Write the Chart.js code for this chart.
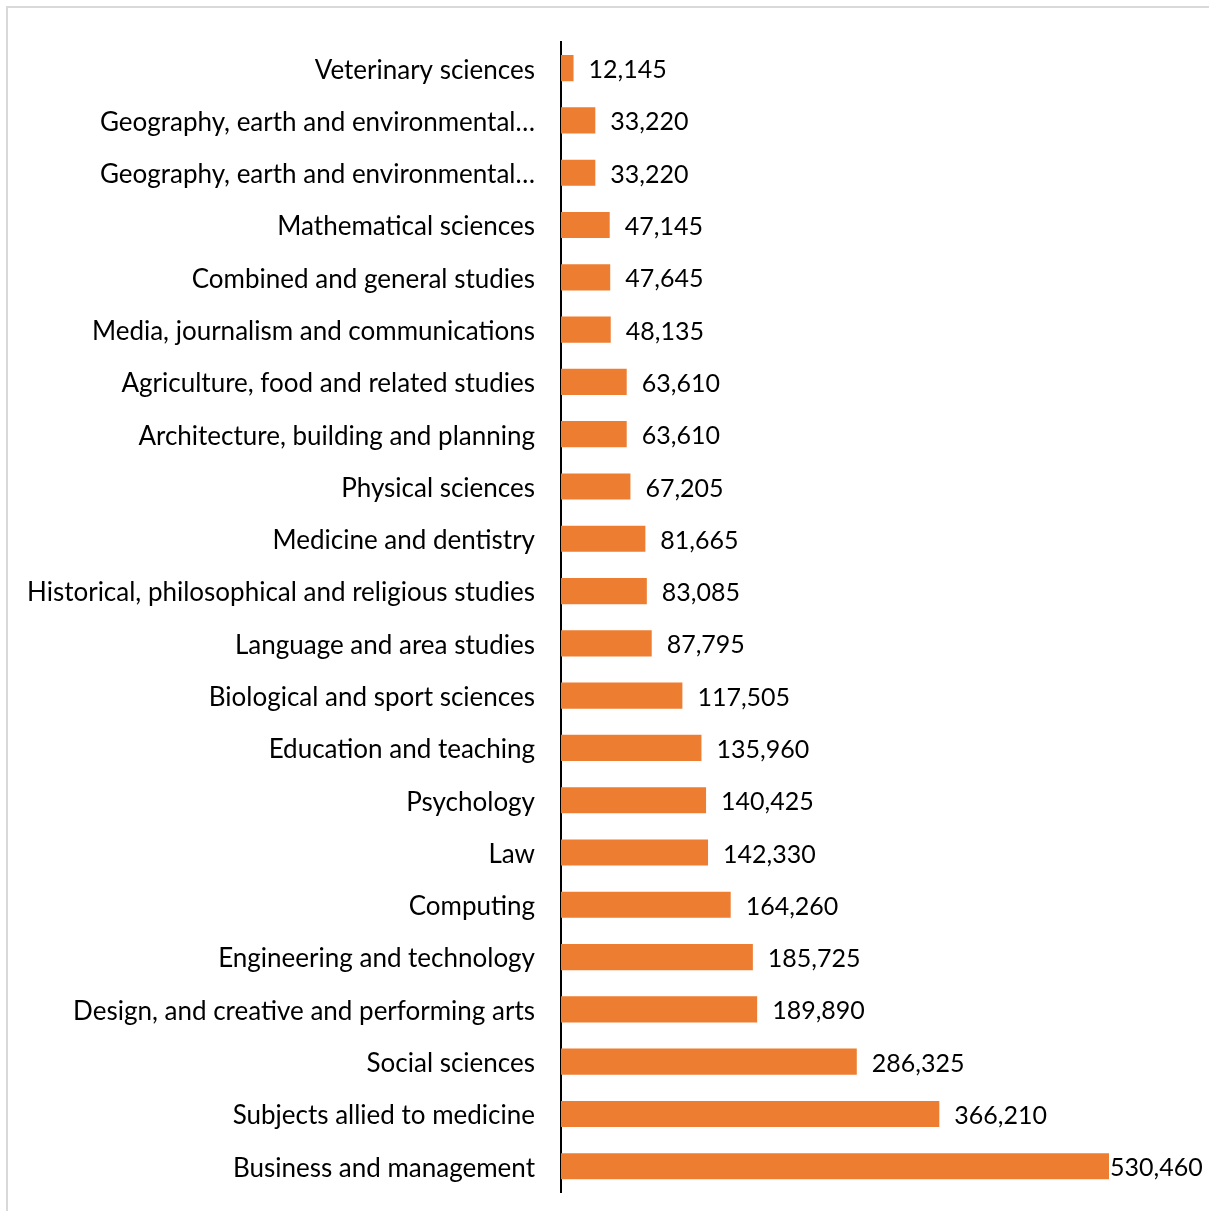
<!DOCTYPE html>
<html>
<head>
<meta charset="utf-8">
<script src="https://cdn.jsdelivr.net/npm/chart.js@4.4.0/dist/chart.umd.min.js"></script>
<style>
    html, body { margin: 0; padding: 0; background: #fff; overflow: hidden; }
    #frame {
        position: absolute; left: 6px; top: 6px;
        width: 1220px; height: 1220px;
        border-left: 2px solid #d9d9d9; border-top: 2px solid #d9d9d9;
    }
    #chart { position: absolute; left: 0; top: 0; }
</style>
</head>
<body>
<div id="frame"></div>
<canvas id="chart" width="1209" height="1234"></canvas>
<script>
const subjects = [
    'Veterinary sciences',
    'Geography, earth and environmental…',
    'Geography, earth and environmental…',
    'Mathematical sciences',
    'Combined and general studies',
    'Media, journalism and communications',
    'Agriculture, food and related studies',
    'Architecture, building and planning',
    'Physical sciences',
    'Medicine and dentistry',
    'Historical, philosophical and religious studies',
    'Language and area studies',
    'Biological and sport sciences',
    'Education and teaching',
    'Psychology',
    'Law',
    'Computing',
    'Engineering and technology',
    'Design, and creative and performing arts',
    'Social sciences',
    'Subjects allied to medicine',
    'Business and management'
];
const students = [
    12145, 33220, 33220, 47145, 47645, 48135, 63610, 63610, 67205, 81665, 83085,
    87795, 117505, 135960, 140425, 142330, 164260, 185725, 189890, 286325, 366210, 530460
];

const FONT = 'Lato, "Open Sans", sans-serif';

// value labels at the end of each bar
const barLabels = {
    id: 'barLabels',
    afterDatasetsDraw(chart) {
        const ctx = chart.ctx;
        const meta = chart.getDatasetMeta(0);
        ctx.save();
        ctx.font = '25px ' + FONT;
        ctx.fillStyle = '#000';
        ctx.textBaseline = 'middle';
        meta.data.forEach((bar, i) => {
            const txt = students[i].toLocaleString('en-US');
            const w = ctx.measureText(txt).width;
            let x = bar.x + 15;
            if (x + w > chart.width - 6) x = bar.x + 1;
            ctx.fillText(txt, x, bar.y + 2);
        });
        ctx.restore();
    }
};

new Chart(document.getElementById('chart'), {
    type: 'bar',
    data: {
        labels: subjects,
        datasets: [{
            data: students,
            backgroundColor: '#ed7d31',
            barPercentage: 0.5,
            categoryPercentage: 1.0
        }]
    },
    options: {
        indexAxis: 'y',
        responsive: false,
        animation: false,
        layout: { autoPadding: false, padding: { top: 42, bottom: 17, left: 0, right: 0 } },
        plugins: { legend: { display: false }, tooltip: { enabled: false } },
        scales: {
            x: {
                min: 0,
                max: 530460 * 648 / 548,
                afterFit(scale) { scale.height = 0; },
                grid: { display: false, drawTicks: false },
                border: { display: false },
                ticks: { display: false }
            },
            y: {
                afterFit(scale) { scale.width = 561; },
                grid: { display: false, drawTicks: false },
                border: { display: true, color: '#000', width: 2 },
                ticks: {
                    color: '#000',
                    padding: 26,
                    labelOffset: 2,
                    autoSkip: false,
                    font: { family: FONT, size: 26 }
                }
            }
        }
    },
    plugins: [barLabels]
});
</script>
</body>
</html>
